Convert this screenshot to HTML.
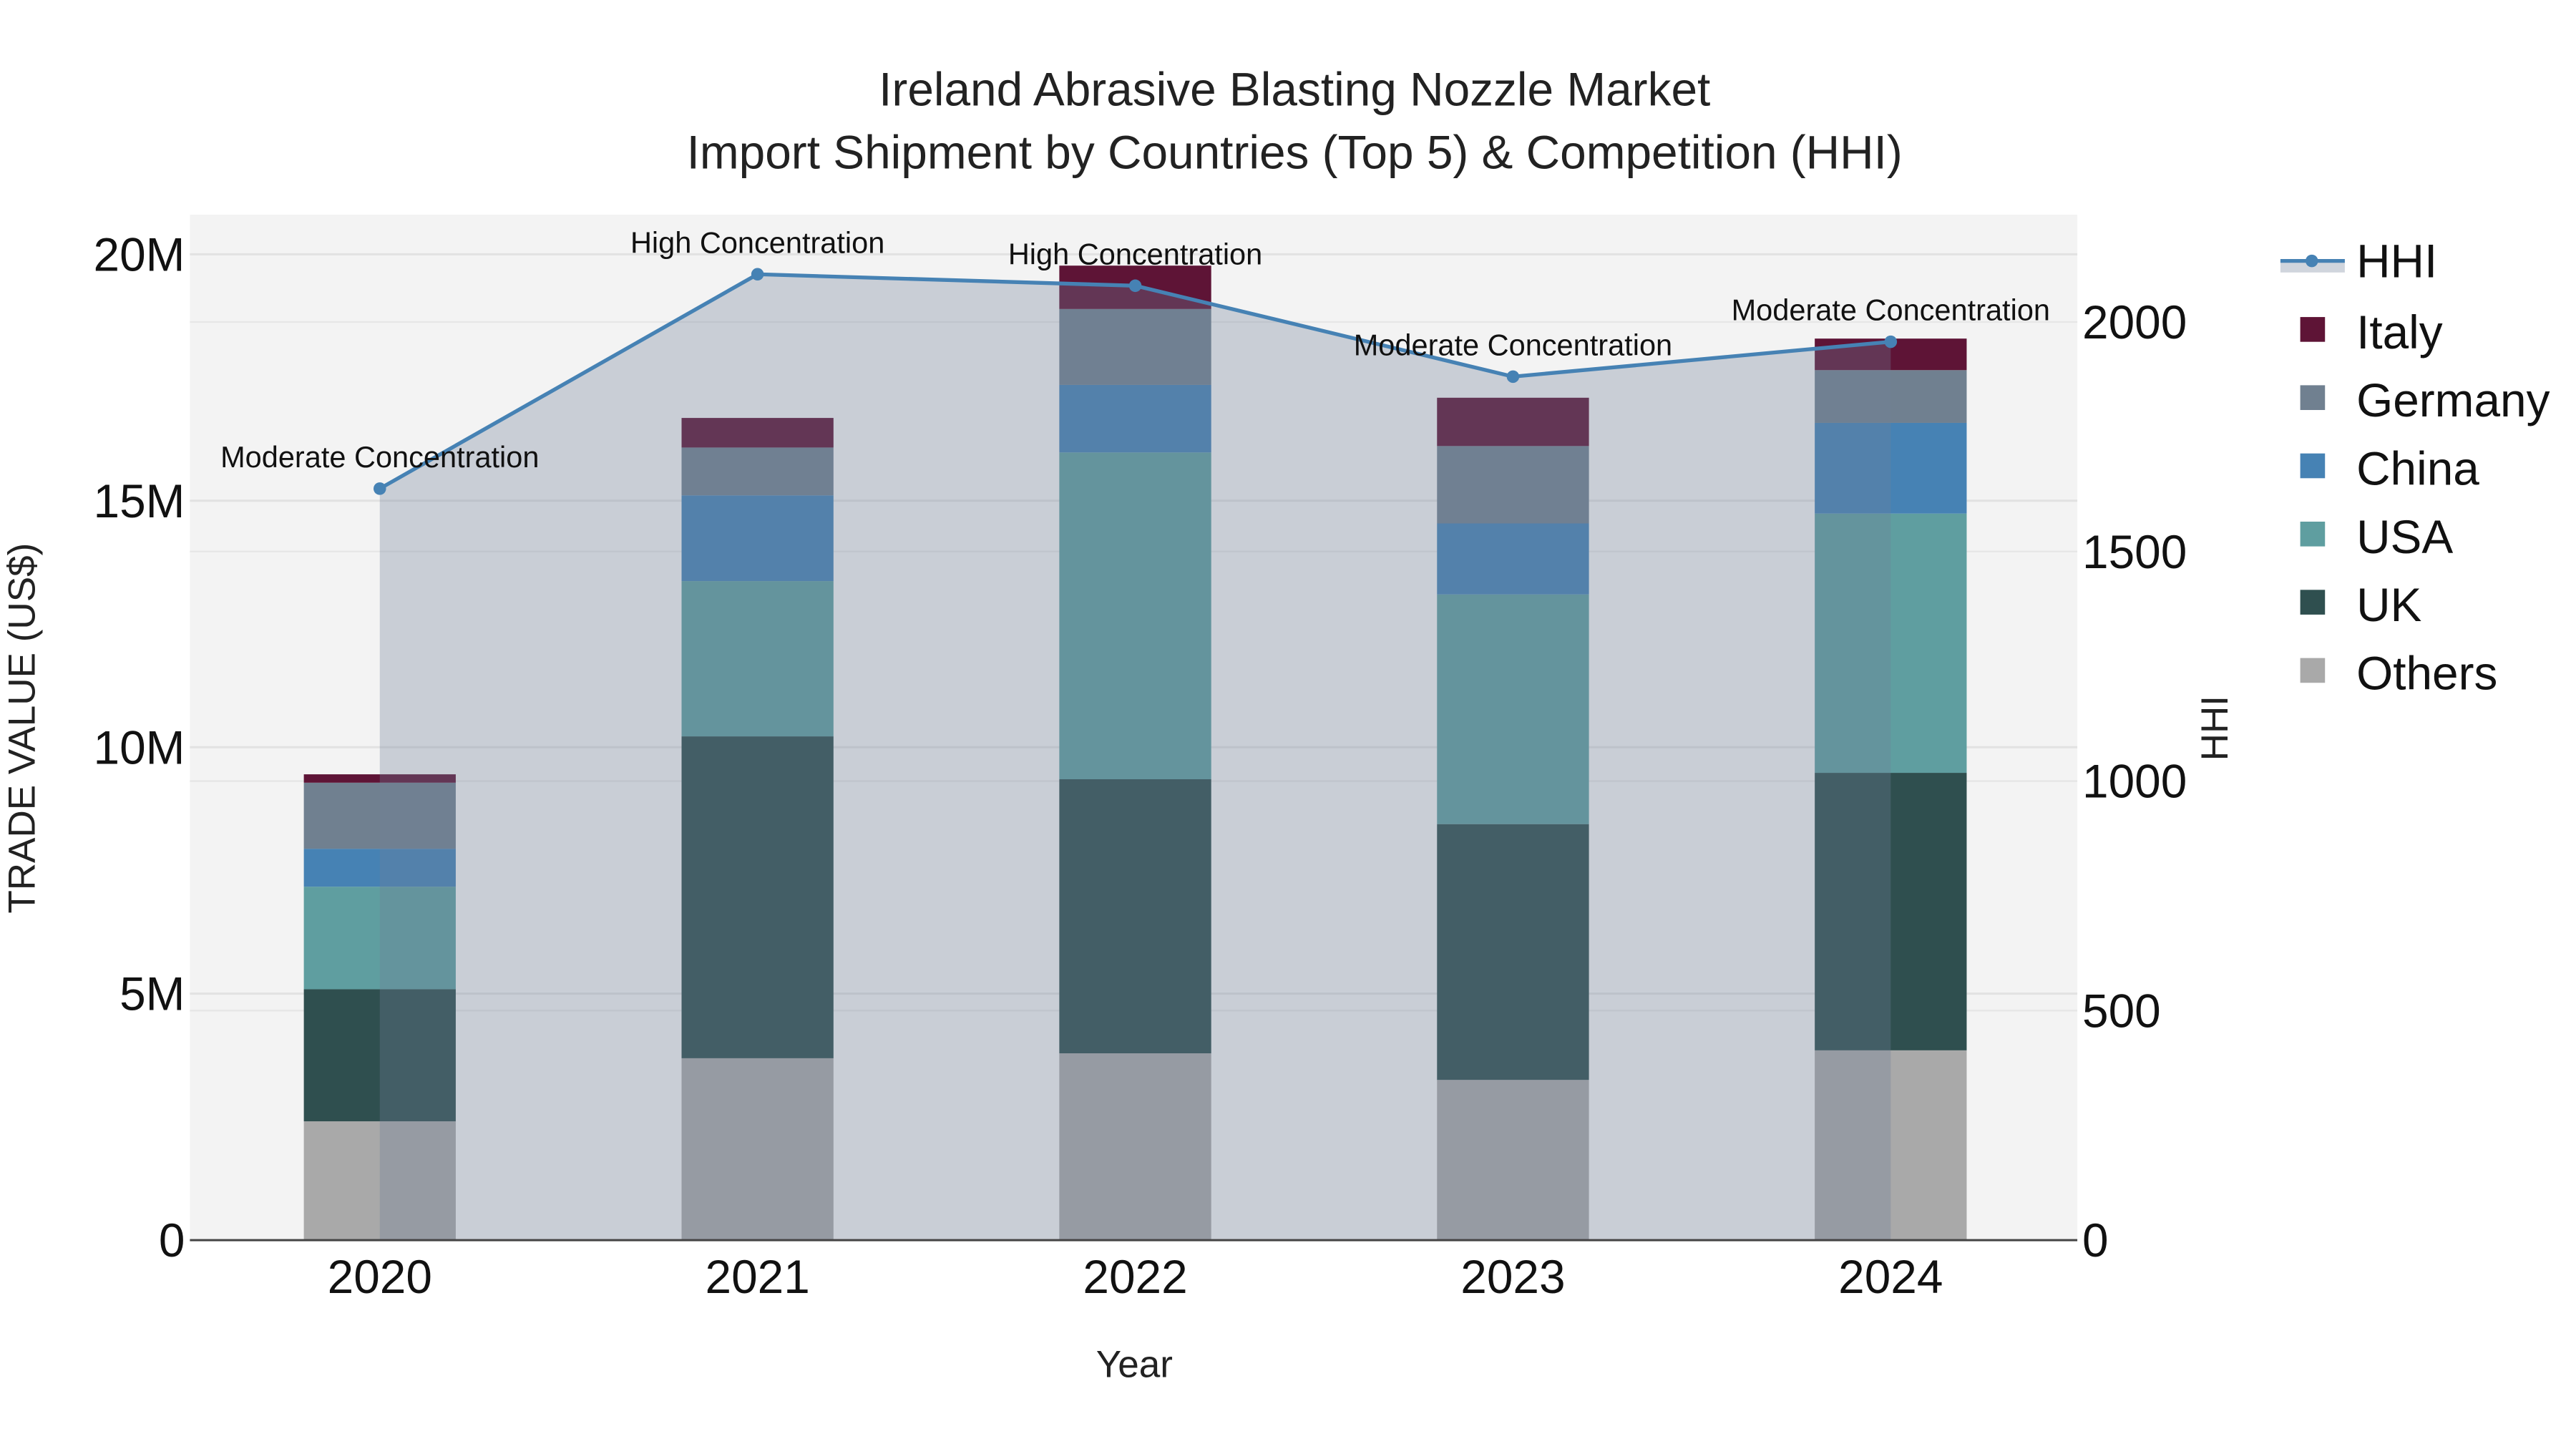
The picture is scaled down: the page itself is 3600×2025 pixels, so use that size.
<!DOCTYPE html>
<html><head><meta charset="utf-8"><style>
html,body{margin:0;padding:0;background:#fff;}
svg{display:block;font-family:"Liberation Sans",Arial,sans-serif;}
</style></head><body>
<svg id="chart" width="3600" height="2025" viewBox="0 0 1560 877.5" xmlns="http://www.w3.org/2000/svg">
<rect x="0" y="0" width="1560" height="877.5" fill="#fff"/>
<rect x="115" y="130" width="1143" height="621" fill="#f3f3f3"/>
<g id="grid"></g>
<g id="bars"></g>
<g id="hhi"></g>
<g id="axes"></g>
<text x="784" y="64" text-anchor="middle" font-size="28.5" fill="#222">Ireland Abrasive Blasting Nozzle Market</text>
<text x="784" y="102" text-anchor="middle" font-size="28.5" fill="#222">Import Shipment by Countries (Top 5) &amp; Competition (HHI)</text>
<text x="687" y="834" text-anchor="middle" font-size="23" fill="#222">Year</text>
<text transform="translate(21,441) rotate(-90)" text-anchor="middle" font-size="23" fill="#222">TRADE VALUE (US$)</text>
<text transform="translate(1349,441) rotate(-90)" text-anchor="middle" font-size="23" fill="#222">HHI</text>
<g id="legend"></g>
</svg>
<script>
const years = ["2020","2021","2022","2023","2024"];
const seriesNames = ["Others","UK","USA","China","Germany","Italy"];
const others = [2.41,3.69,3.79,3.25,3.85];
const uk = [2.68,6.53,5.56,5.19,5.63];
const usa = [2.08,3.15,6.63,4.66,5.26];
const china = [0.77,1.74,1.37,1.44,1.84];
const germany = [1.34,0.97,1.54,1.57,1.07];
const italy = [0.17,0.60,0.88,0.98,0.64];
const hhi = [1637,2104,2079,1881,1957];
const hhiLabels = ["Moderate Concentration","High Concentration","High Concentration","Moderate Concentration","Moderate Concentration"];
const yTicks = [0,5,10,15,20];
const yTickLabels = ["0","5M","10M","15M","20M"];
const y2Ticks = [0,500,1000,1500,2000];

const colors = {Others:"#a9a9a9",UK:"#2f4f4f",USA:"#5f9ea0",China:"#4682b4",Germany:"#708090",Italy:"#5e1436"};
const seriesData = [others,uk,usa,china,germany,italy];
const NS="http://www.w3.org/2000/svg";
const X0=115,X1=1258,Y0=751;
function xPos(i){return 230+i*228.75;}
function yPos(v){return Y0-v*(597/20);}
function y2Pos(v){return Y0-v*(556/2000);}
function mk(tag,attrs,parent){const e=document.createElementNS(NS,tag);for(const k in attrs)e.setAttribute(k,attrs[k]);parent.appendChild(e);return e;}
const grid=document.getElementById('grid'),bars=document.getElementById('bars'),hg=document.getElementById('hhi'),axes=document.getElementById('axes'),leg=document.getElementById('legend');
yTicks.forEach((t,i)=>{
  if(t>0){const l=mk('line',{x1:X0,x2:X1,y1:yPos(t),y2:yPos(t),stroke:"#e2e2e2","stroke-width":1.3},grid);
  
  }
  const tx=mk('text',{x:112,y:yPos(t)+10,"text-anchor":"end","font-size":28.5,fill:"#111"},axes);tx.textContent=yTickLabels[i];
  
  
});
y2Ticks.forEach(t=>{
  if(t>0){const l=mk('line',{x1:X0,x2:X1,y1:y2Pos(t),y2:y2Pos(t),stroke:"#e6e6e6","stroke-width":1},grid);
  
  }
  const tx=mk('text',{x:1261,y:y2Pos(t)+10,"text-anchor":"start","font-size":28.5,fill:"#111"},axes);tx.textContent=String(t);
  
  
});
years.forEach((yr,i)=>{
  let cum=0;
  seriesData.forEach((arr,s)=>{
    const v=arr[i];
    const r=mk('rect',{x:xPos(i)-46,width:92,y:yPos(cum+v),height:yPos(cum)-yPos(cum+v),fill:colors[seriesNames[s]]},bars);
    
    
    cum+=v;
  });
  const tx=mk('text',{x:xPos(i),y:783,"text-anchor":"middle","font-size":28.5,fill:"#111"},axes);tx.textContent=yr;
  
  
});
let pts=hhi.map((v,i)=>xPos(i)+","+y2Pos(v)).join(" ");
const area=mk('polygon',{points:xPos(0)+","+Y0+" "+pts+" "+xPos(hhi.length-1)+","+Y0,fill:"rgba(112,128,153,0.32)"},hg);


const line=mk('polyline',{points:pts,fill:"none",stroke:"#4682b4","stroke-width":2.3},hg);


hhi.forEach((v,i)=>{
  const c=mk('circle',{cx:xPos(i),cy:y2Pos(v),r:3.8,fill:"#4682b4"},hg);
  
  
  const t=mk('text',{x:xPos(i),y:y2Pos(v)-13,"text-anchor":"middle","font-size":18,fill:"#111"},hg);t.textContent=hhiLabels[i];
  
  
});
const ax=mk('line',{x1:X0,x2:X1,y1:Y0,y2:Y0,stroke:"#444","stroke-width":1.3},axes);


const lg1=mk('rect',{x:1381,y:158,width:39,height:7,fill:"#d0d5dd"},leg);


const lg2=mk('line',{x1:1381,x2:1420,y1:158,y2:158,stroke:"#4682b4","stroke-width":2.3},leg);


const lg3=mk('circle',{cx:1400,cy:158,r:3.8,fill:"#4682b4"},leg);


const lt=mk('text',{x:1427,y:168,"font-size":28.5,fill:"#111"},leg);lt.textContent="HHI";


["Italy","Germany","China","USA","UK","Others"].forEach((n,k)=>{
  const y=201+k*41.3;
  const r=mk('rect',{x:1393,y:y-9,width:15,height:15,fill:colors[n]},leg);
  
  
  const t=mk('text',{x:1427,y:y+10,"font-size":28.5,fill:"#111"},leg);t.textContent=n;
  
  
});
</script>
</body></html>
